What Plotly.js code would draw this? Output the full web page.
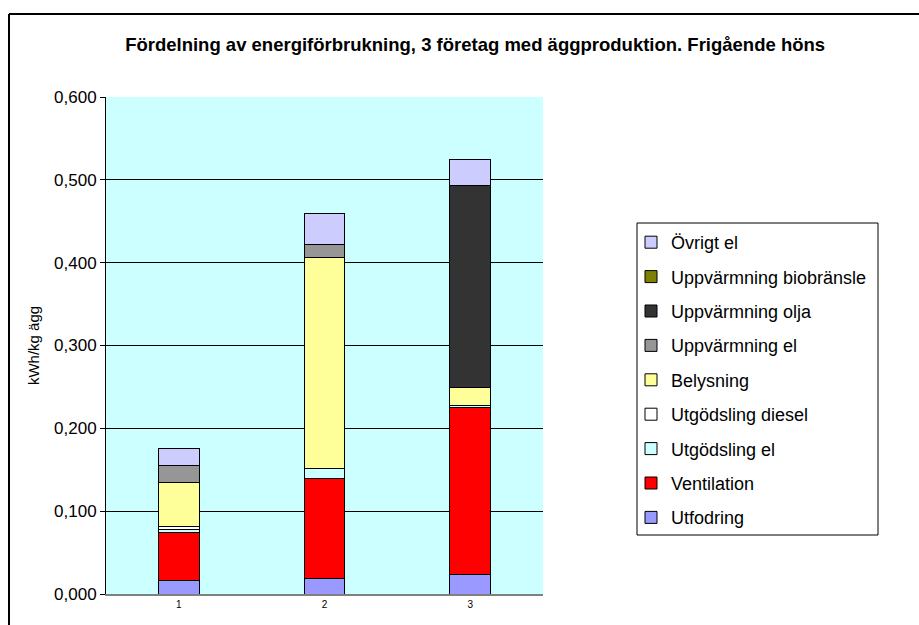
<!DOCTYPE html>
<html>
<head>
<meta charset="utf-8">
<script src="https://cdn.plot.ly/plotly-3.0.1.min.js"></script>
<style>
html,body{margin:0;padding:0;background:#fff;}
#chart{width:919px;height:625px;}
</style>
</head>
<body>
<div id="chart"></div>
<script>
const categories = ['1', '2', '3'];
const utfodring = [0.016, 0.019, 0.023];
const ventilation = [0.058, 0.120, 0.202];
const utgodslingEl = [0.004, 0.012, 0.003];
const utgodslingDiesel = [0.004, 0, 0];
const belysning = [0.053, 0.255, 0.021];
const uppvarmningEl = [0.020, 0.016, 0];
const uppvarmningOlja = [0, 0, 0.244];
const uppvarmningBio = [0, 0, 0];
const ovrigtEl = [0.021, 0.037, 0.031];

const seriesNames = ['Utfodring', 'Ventilation', 'Utgödsling el', 'Utgödsling diesel', 'Belysning',
  'Uppvärmning el', 'Uppvärmning olja', 'Uppvärmning biobränsle', 'Övrigt el'];
const seriesValues = [utfodring, ventilation, utgodslingEl, utgodslingDiesel, belysning,
  uppvarmningEl, uppvarmningOlja, uppvarmningBio, ovrigtEl];
const colors = ['#9999FF', '#FF0000', '#CCFFFF', '#FFFFFF', '#FFFF99', '#969696', '#333333', '#808000', '#CCCCFF'];

const traces = seriesNames.map((name, i) => ({
  type: 'bar',
  name: name,
  x: categories,
  y: seriesValues[i],
  legendgroup: 'g' + i,
  legendrank: 1000 - i * 10,
  marker: {color: colors[i], line: {color: '#000000', width: 1}},
  hoverinfo: 'name+y'
}));

const L = 106, R = 543, T = 97, B = 594, W = 919, H = 625;
const px = v => (v - L) / (R - L);
const py = v => (B - v) / (B - T);

const layout = {
  width: W, height: H,
  margin: {l: L, r: W - R, t: T, b: H - B, pad: 0},
  paper_bgcolor: '#FFFFFF',
  plot_bgcolor: '#CCFFFF',
  barmode: 'stack',
  bargap: 0.72,
  separators: ',.',
  font: {family: 'Arial, "Liberation Sans", sans-serif', color: '#000000'},
  title: {
    text: '<b>Fördelning av energiförbrukning, 3 företag med äggproduktion. Frigående höns</b>',
    font: {size: 18.5, color: '#000000'},
    x: 0.517, xref: 'container', xanchor: 'center',
    y: 1 - 45 / H, yref: 'container', yanchor: 'middle'
  },
  xaxis: {
    type: 'category',
    tickfont: {size: 10},
    showline: true, linecolor: '#808080', linewidth: 2,
    ticks: '', showgrid: false, zeroline: false,
    mirror: false
  },
  yaxis: {
    range: [0, 0.6],
    dtick: 0.1,
    tickformat: '.3f',
    tickfont: {size: 17},
    ticks: 'outside', ticklen: 5, tickcolor: '#000000',
    showline: true, linecolor: '#000000', linewidth: 1,
    showgrid: true, gridcolor: '#000000', gridwidth: 1,
    zeroline: false,
    title: {text: 'kWh/kg ägg', font: {size: 15}, standoff: 10}
  },
  legend: {
    x: px(631), y: py(224), xanchor: 'left', yanchor: 'top',
    xref: 'paper', yref: 'paper',
    traceorder: 'grouped',
    tracegroupgap: 8,
    borderwidth: 0,
    bgcolor: 'rgba(0,0,0,0)',
    font: {size: 18},
    itemwidth: 30
  },
  shapes: [
    {type: 'rect', xref: 'paper', yref: 'paper', x0: px(637), x1: px(878), y0: py(223), y1: py(535),
     line: {color: '#000000', width: 1}, fillcolor: '#FFFFFF', layer: 'below'},
    {type: 'line', xref: 'paper', yref: 'paper', x0: px(9), x1: px(919), y0: py(14), y1: py(14),
     line: {color: '#000000', width: 2}},
    {type: 'line', xref: 'paper', yref: 'paper', x0: px(9), x1: px(9), y0: py(14), y1: py(625),
     line: {color: '#000000', width: 2}}
  ],
  showlegend: true
};

Plotly.newPlot('chart', traces, layout, {displayModeBar: false, staticPlot: true});
</script>
</body>
</html>
